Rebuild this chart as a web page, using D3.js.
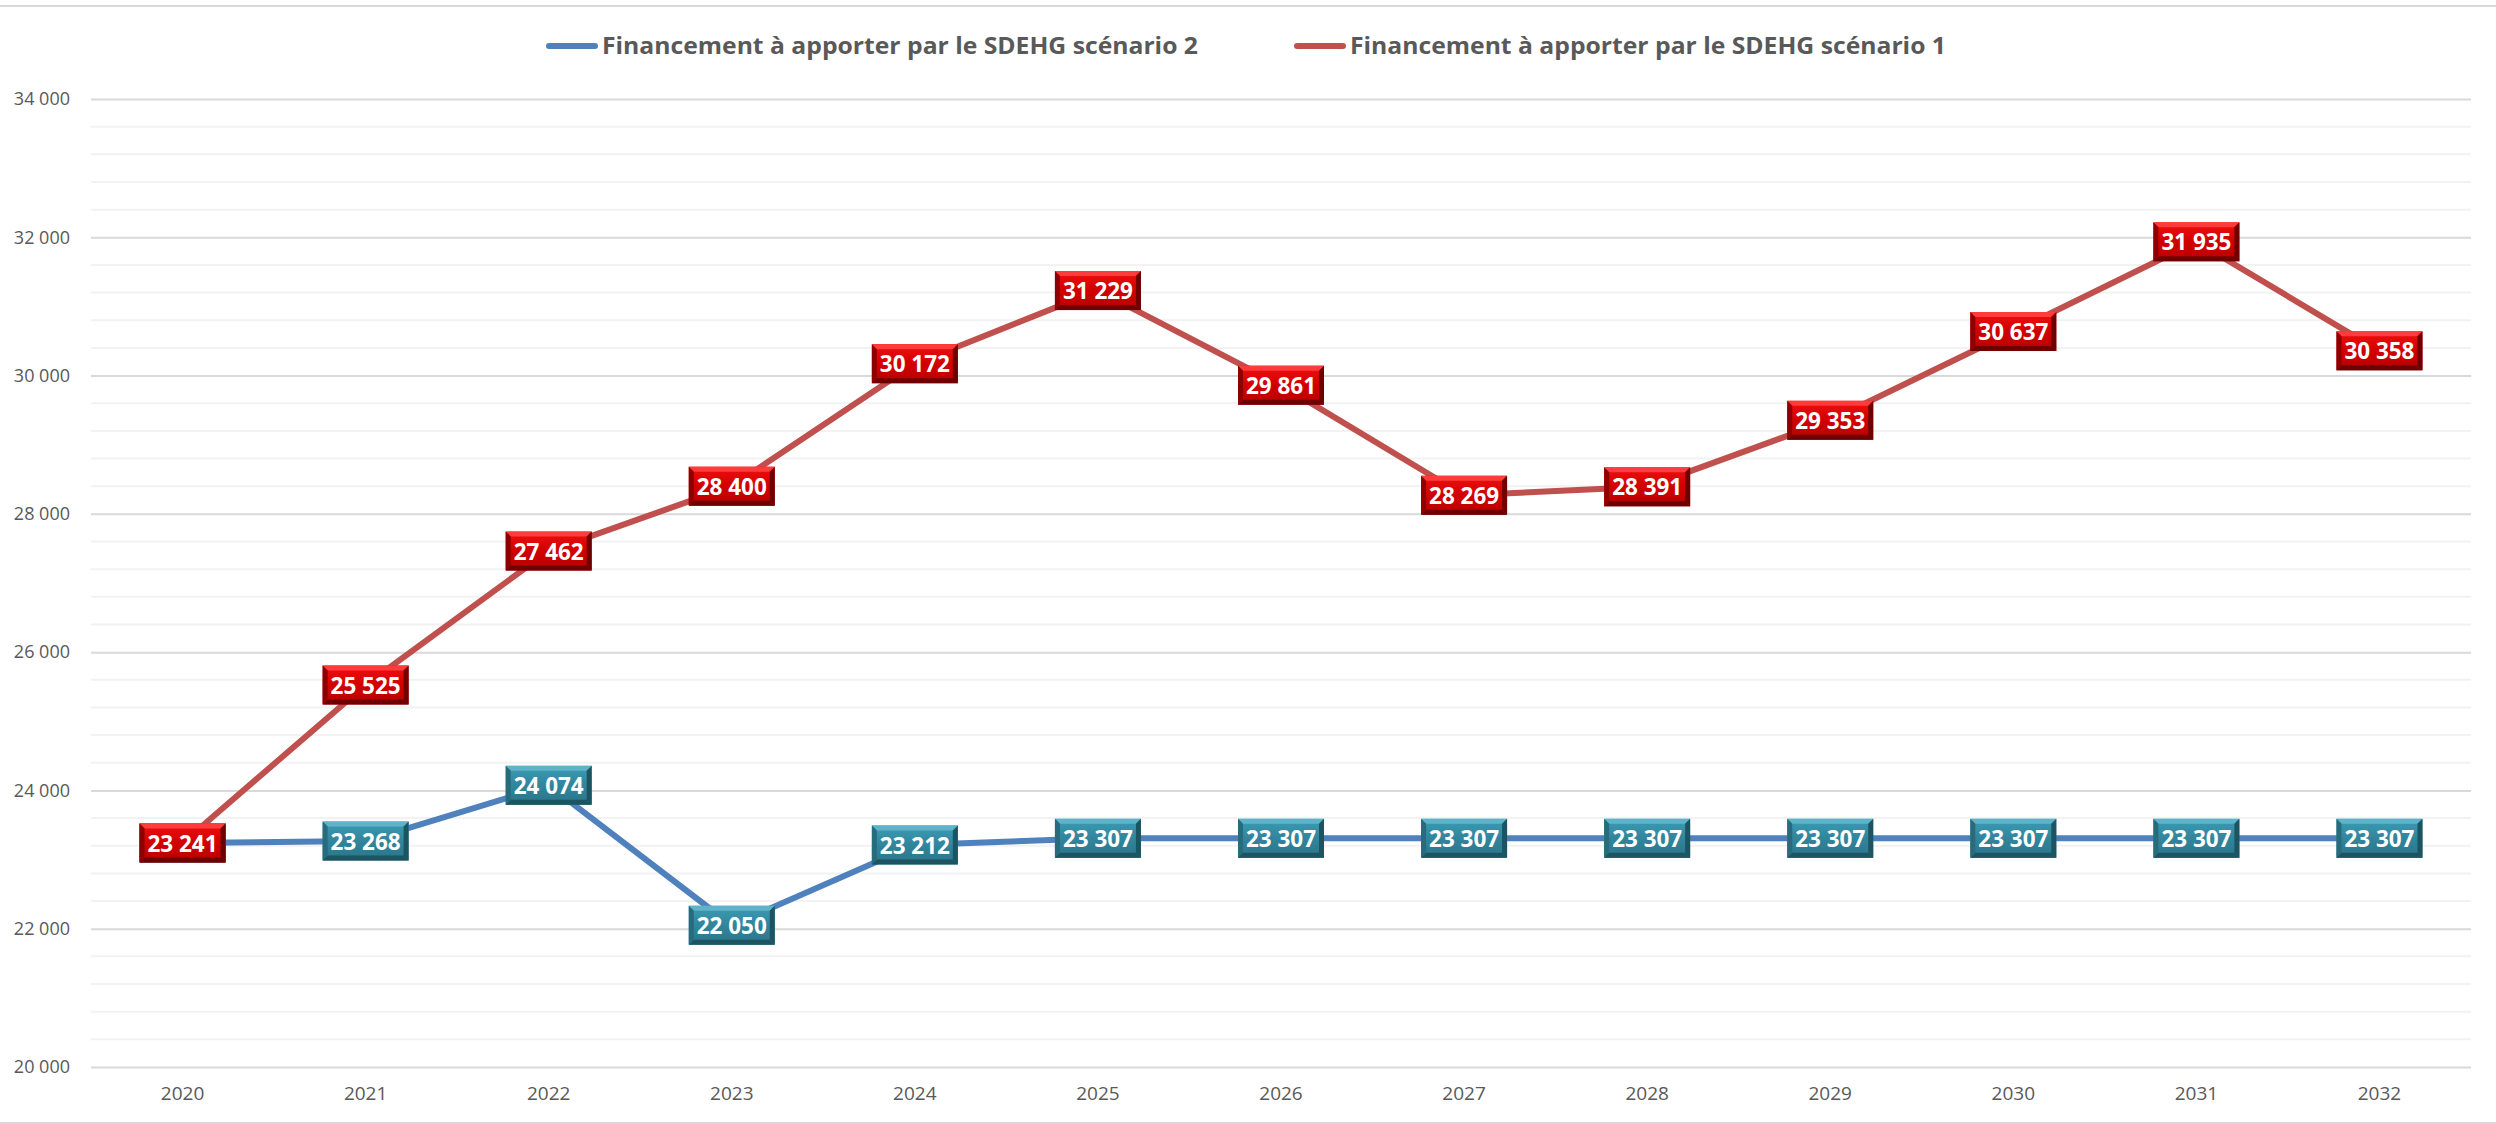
<!DOCTYPE html>
<html>
<head>
<meta charset="utf-8">
<script src="https://cdn.jsdelivr.net/npm/d3@7"></script>
<style>
  html, body { margin: 0; padding: 0; background: #fff; }
  svg { display: block; }
</style>
</head>
<body>
<figure style="margin:0"></figure>
<script>
// chart values
const years = ["2020", "2021", "2022", "2023", "2024", "2025", "2026", "2027", "2028", "2029", "2030", "2031", "2032"];
const scenario2 = [23241, 23268, 24074, 22050, 23212, 23307, 23307, 23307, 23307, 23307, 23307, 23307, 23307];
const scenario1 = [23241, 25525, 27462, 28400, 30172, 31229, 29861, 28269, 28391, 29353, 30637, 31935, 30358];
const legendLabels = ["Financement à apporter par le SDEHG scénario 2", "Financement à apporter par le SDEHG scénario 1"];
const yTicks = [20000, 22000, 24000, 26000, 28000, 30000, 32000, 34000];

const W = 2496, H = 1124;
const margin = { top: 99, right: 25, bottom: 57, left: 91 };

const svg = d3.select('figure')
    .append('svg')
    .attr('width', W)
    .attr('height', H);

// gradients for the bevelled label boxes
const defs = svg.append('defs');
function boxGradient(id, light, mid, dark) {
    const g = defs.append('linearGradient')
        .attr('id', id)
        .attr('x1', 0).attr('y1', 0).attr('x2', 0).attr('y2', 1);
    g.append('stop').attr('offset', '0%').attr('stop-color', light);
    g.append('stop').attr('offset', '50%').attr('stop-color', mid);
    g.append('stop').attr('offset', '100%').attr('stop-color', dark);
}
boxGradient('gradRed', '#f01010', '#d00000', '#b80000');
boxGradient('gradBlue', '#3c9cb4', '#31859c', '#2a7589');

// chart frame lines
svg.append('line').attr('x1', 0).attr('x2', W).attr('y1', 6).attr('y2', 6)
    .attr('stroke', '#d9d9d9').attr('stroke-width', 2);
svg.append('line').attr('x1', 0).attr('x2', W).attr('y1', H - 1).attr('y2', H - 1)
    .attr('stroke', '#d9d9d9').attr('stroke-width', 2);

const x = d3.scaleBand()
    .domain(years)
    .range([margin.left, W - margin.right]);

const y = d3.scaleLinear()
    .domain([20000, 34000])
    .range([H - margin.bottom, margin.top]);

// minor gridlines every 400
const minorTicks = d3.range(20400, 34000, 400).filter(v => v % 2000 !== 0);
svg.append('g')
    .selectAll('line')
    .data(minorTicks)
    .join('line')
    .attr('x1', margin.left)
    .attr('x2', W - margin.right)
    .attr('y1', d => y(d))
    .attr('y2', d => y(d))
    .attr('stroke', '#f2f2f2')
    .attr('stroke-width', 2);

// major gridlines + y axis labels
const fmt = d => d3.format(',')(d).replace(',', ' ');
const yAxis = d3.axisLeft(y)
    .tickValues(yTicks)
    .tickSize(-(W - margin.left - margin.right))
    .tickPadding(21)
    .tickFormat(fmt);

svg.append('g')
    .attr('transform', `translate(${margin.left},0)`)
    .call(yAxis)
    .call(g => g.select('.domain').remove())
    .call(g => g.selectAll('.tick line').attr('stroke', '#d9d9d9').attr('stroke-width', 2))
    .call(g => g.selectAll('.tick text')
        .attr('fill', '#595959')
        .style('font-family', '"Open Sans", "Liberation Sans", sans-serif')
        .style('font-size', '18px'));

// x axis labels
const xAxis = d3.axisBottom(x).tickSize(0).tickPadding(20);
svg.append('g')
    .attr('transform', `translate(0,${H - margin.bottom})`)
    .call(xAxis)
    .call(g => g.select('.domain').remove())
    .call(g => g.selectAll('.tick text')
        .attr('fill', '#595959')
        .style('font-family', '"Open Sans", "Liberation Sans", sans-serif')
        .style('font-size', '19px'));

const cx = d => x(d) + x.bandwidth() / 2;
const line = d3.line()
    .x((d, i) => cx(years[i]))
    .y(d => y(d));

const series = [
    { values: scenario2, color: '#4f81bd', grad: 'gradBlue', top: '#5fb3c8', bot: '#1d5462', side: '#276b7d' },
    { values: scenario1, color: '#c0504d', grad: 'gradRed', top: '#ff3b3b', bot: '#6e0000', side: '#8e0000' }
];

series.forEach(s => {
    svg.append('path')
        .datum(s.values)
        .attr('fill', 'none')
        .attr('stroke', s.color)
        .attr('stroke-width', 6)
        .attr('stroke-linejoin', 'round')
        .attr('d', line);
});

// bevelled data labels
const bw = 86, bh = 39, bev = 5;
series.forEach(s => {
    const labels = svg.append('g')
        .selectAll('g')
        .data(s.values)
        .join('g')
        .attr('transform', (d, i) => `translate(${cx(years[i])},${y(d)})`);

    labels.append('rect')
        .attr('x', -bw / 2).attr('y', -bh / 2)
        .attr('width', bw).attr('height', bh)
        .attr('fill', `url(#${s.grad})`);

    const L = -bw / 2, R = bw / 2, T = -bh / 2, B = bh / 2;
    labels.append('polygon')
        .attr('points', `${L},${T} ${R},${T} ${R - bev},${T + bev} ${L + bev},${T + bev}`)
        .attr('fill', s.top);
    labels.append('polygon')
        .attr('points', `${L},${B} ${R},${B} ${R - bev},${B - bev} ${L + bev},${B - bev}`)
        .attr('fill', s.bot);
    labels.append('polygon')
        .attr('points', `${L},${T} ${L + bev},${T + bev} ${L + bev},${B - bev} ${L},${B}`)
        .attr('fill', s.side);
    labels.append('polygon')
        .attr('points', `${R},${T} ${R - bev},${T + bev} ${R - bev},${B - bev} ${R},${B}`)
        .attr('fill', s.bot);

    labels.append('text')
        .attr('text-anchor', 'middle')
        .attr('dy', '0.36em')
        .attr('fill', '#fff')
        .attr('textLength', 70)
        .attr('lengthAdjust', 'spacingAndGlyphs')
        .style('font-family', '"Open Sans", "Liberation Sans", sans-serif')
        .style('font-weight', 'bold')
        .style('font-size', '24px')
        .text(fmt);
});

// legend
const legendX = [546, 1294];
const legend = svg.append('g')
    .selectAll('g')
    .data(legendLabels)
    .join('g')
    .attr('transform', (d, i) => `translate(${legendX[i]},46)`);

legend.append('line')
    .attr('x1', 3).attr('x2', 49)
    .attr('stroke', (d, i) => series[i].color)
    .attr('stroke-width', 6)
    .attr('stroke-linecap', 'round');

legend.append('text')
    .attr('x', 56)
    .attr('dy', '0.35em')
    .attr('fill', '#595959')
    .attr('textLength', 596)
    .attr('lengthAdjust', 'spacingAndGlyphs')
    .style('font-family', '"Liberation Sans Narrow", "Open Sans", sans-serif')
    .style('font-weight', 'bold')
    .style('font-size', '24px')
    .text(d => d);
</script>
</body>
</html>
